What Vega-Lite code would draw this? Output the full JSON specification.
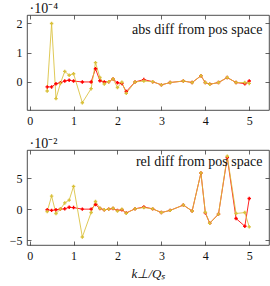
{
  "$schema": "https://vega.github.io/schema/vega-lite/v6.json",
  "padding": {"left": 8, "top": 0, "right": 0, "bottom": 0},
  "spacing": 8,
  "config": {
    "view": {"stroke": "#222222", "strokeWidth": 0.8},
    "font": "Liberation Serif",
    "axis": {"grid": false, "domain": false, "tickColor": "#222222", "tickSize": -4, "tickWidth": 0.7,
      "labelFont": "Liberation Serif", "labelFontSize": 12, "labelColor": "#111111", "labelPadding": 9,
      "titleFont": "Liberation Serif", "titleFontWeight": "normal", "titleColor": "#111111", "titleFontSize": 12}
  },
  "datasets": {
    "d": [
      {"x": 0.4, "s": "A", "abs": -0.17e-4, "rel": -0.1e-2},
      {"x": 0.5, "s": "A", "abs": -0.17e-4, "rel": -0.2e-2},
      {"x": 0.6, "s": "A", "abs": -0.06e-4, "rel": -0.1e-2},
      {"x": 0.7, "s": "A", "abs": -0.03e-4, "rel": 0.0},
      {"x": 0.8, "s": "A", "abs": 0.03e-4, "rel": 0.05e-2},
      {"x": 0.9, "s": "A", "abs": 0.06e-4, "rel": 0.3e-2},
      {"x": 1.0, "s": "A", "abs": 0.03e-4, "rel": 0.25e-2},
      {"x": 1.2, "s": "A", "abs": 0.0, "rel": 0.0},
      {"x": 1.4, "s": "A", "abs": 0.0, "rel": 0.0},
      {"x": 1.5, "s": "A", "abs": 0.45e-4, "rel": 0.75e-2},
      {"x": 1.6, "s": "A", "abs": 0.04e-4, "rel": 0.1e-2},
      {"x": 1.7, "s": "A", "abs": 0.0, "rel": -0.1e-2},
      {"x": 1.8, "s": "A", "abs": 0.01e-4, "rel": 0.0},
      {"x": 1.9, "s": "A", "abs": 0.1e-4, "rel": 0.1e-2},
      {"x": 2.0, "s": "A", "abs": -0.03e-4, "rel": -0.2e-2},
      {"x": 2.1, "s": "A", "abs": -0.05e-4, "rel": -0.1e-2},
      {"x": 2.2, "s": "A", "abs": -0.33e-4, "rel": -0.6e-2},
      {"x": 2.4, "s": "A", "abs": 0.0, "rel": 0.05e-2},
      {"x": 2.6, "s": "A", "abs": 0.08e-4, "rel": 0.35e-2},
      {"x": 2.8, "s": "A", "abs": 0.01e-4, "rel": 0.05e-2},
      {"x": 3.0, "s": "A", "abs": -0.1e-4, "rel": -0.55e-2},
      {"x": 3.2, "s": "A", "abs": -0.02e-4, "rel": -0.2e-2},
      {"x": 3.5, "s": "A", "abs": 0.03e-4, "rel": 0.65e-2},
      {"x": 3.7, "s": "A", "abs": -0.02e-4, "rel": -0.3e-2},
      {"x": 3.9, "s": "A", "abs": 0.21e-4, "rel": 5.8e-2},
      {"x": 4.0, "s": "A", "abs": -0.02e-4, "rel": -0.6e-2},
      {"x": 4.1, "s": "A", "abs": -0.08e-4, "rel": -2.26e-2},
      {"x": 4.3, "s": "A", "abs": -0.02e-4, "rel": -0.8e-2},
      {"x": 4.5, "s": "A", "abs": 0.15e-4, "rel": 8.3e-2},
      {"x": 4.7, "s": "A", "abs": -0.02e-4, "rel": -1.5e-2},
      {"x": 4.9, "s": "A", "abs": -0.06e-4, "rel": -2.75e-2},
      {"x": 5.0, "s": "A", "abs": 0.03e-4, "rel": 1.7e-2},
      {"x": 0.4, "s": "B", "abs": -0.31e-4, "rel": -0.39e-2},
      {"x": 0.5, "s": "B", "abs": 2.0e-4, "rel": 2.1e-2},
      {"x": 0.6, "s": "B", "abs": -0.57e-4, "rel": -0.7e-2},
      {"x": 0.7, "s": "B", "abs": -0.05e-4, "rel": 0.0},
      {"x": 0.8, "s": "B", "abs": 0.36e-4, "rel": 1.0e-2},
      {"x": 0.9, "s": "B", "abs": 0.23e-4, "rel": 1.45e-2},
      {"x": 1.0, "s": "B", "abs": 0.28e-4, "rel": 3.65e-2},
      {"x": 1.2, "s": "B", "abs": -0.71e-4, "rel": -4.47e-2},
      {"x": 1.4, "s": "B", "abs": -0.23e-4, "rel": -0.55e-2},
      {"x": 1.5, "s": "B", "abs": 0.66e-4, "rel": 1.23e-2},
      {"x": 1.6, "s": "B", "abs": 0.15e-4, "rel": 0.15e-2},
      {"x": 1.7, "s": "B", "abs": -0.07e-4, "rel": -0.1e-2},
      {"x": 1.8, "s": "B", "abs": 0.01e-4, "rel": 0.0},
      {"x": 1.9, "s": "B", "abs": 0.1e-4, "rel": 0.15e-2},
      {"x": 2.0, "s": "B", "abs": -0.19e-4, "rel": -0.3e-2},
      {"x": 2.1, "s": "B", "abs": -0.01e-4, "rel": 0.0},
      {"x": 2.2, "s": "B", "abs": -0.39e-4, "rel": -0.65e-2},
      {"x": 2.4, "s": "B", "abs": 0.0, "rel": 0.05e-2},
      {"x": 2.6, "s": "B", "abs": 0.03e-4, "rel": 0.25e-2},
      {"x": 2.8, "s": "B", "abs": 0.01e-4, "rel": 0.05e-2},
      {"x": 3.0, "s": "B", "abs": -0.1e-4, "rel": -0.55e-2},
      {"x": 3.2, "s": "B", "abs": -0.02e-4, "rel": -0.2e-2},
      {"x": 3.5, "s": "B", "abs": 0.03e-4, "rel": 0.65e-2},
      {"x": 3.7, "s": "B", "abs": -0.02e-4, "rel": -0.3e-2},
      {"x": 3.9, "s": "B", "abs": 0.21e-4, "rel": 5.8e-2},
      {"x": 4.0, "s": "B", "abs": -0.02e-4, "rel": -0.5e-2},
      {"x": 4.1, "s": "B", "abs": -0.08e-4, "rel": -2.26e-2},
      {"x": 4.3, "s": "B", "abs": -0.02e-4, "rel": -0.8e-2},
      {"x": 4.5, "s": "B", "abs": 0.15e-4, "rel": 8.5e-2},
      {"x": 4.7, "s": "B", "abs": -0.02e-4, "rel": -0.7e-2},
      {"x": 4.9, "s": "B", "abs": -0.02e-4, "rel": -0.55e-2},
      {"x": 5.0, "s": "B", "abs": -0.05e-4, "rel": -2.85e-2}
    ]
  },
  "vconcat": [
    {
      "width": 242, "height": 95,
      "resolve": {"axis": {"x": "independent", "y": "independent"}},
      "layer": [
        {
          "data": {"name": "d"},
          "mark": {"type": "line", "strokeWidth": 1, "opacity": 0.85},
          "encoding": {
            "x": {"field": "x", "type": "quantitative", "scale": {"domain": [-0.06, 5.45], "nice": false, "zero": false},
              "axis": {"orient": "bottom", "values": [0, 1, 2, 3, 4, 5], "title": null}},
            "y": {"field": "abs", "type": "quantitative", "scale": {"domain": [-0.96e-4, 2.29e-4], "nice": false, "zero": false},
              "axis": {"orient": "left", "values": [0, 1e-4, 2e-4], "labelExpr": "format(datum.value*1e4, '.0f')",
                "title": "·10⁻⁴", "titleFontSize": 14, "titleAngle": 0, "titleAlign": "left", "titleBaseline": "alphabetic", "titleX": 2, "titleY": -3}},
            "color": {"field": "s", "type": "nominal", "scale": {"domain": ["A", "B"], "range": ["#ff0000", "#d9c03a"]}, "legend": null}
          }
        },
        {
          "data": {"name": "d"},
          "mark": {"type": "point", "filled": true, "shape": "cross", "size": 12, "opacity": 1},
          "encoding": {
            "x": {"field": "x", "type": "quantitative", "axis": {"orient": "top", "values": [0, 1, 2, 3, 4, 5], "labels": false, "title": null}},
            "y": {"field": "abs", "type": "quantitative", "axis": {"orient": "right", "values": [0, 1e-4, 2e-4], "labels": false, "title": null}},
            "color": {"field": "s", "type": "nominal", "legend": null}
          }
        },
        {
          "data": {"values": [{}]},
          "mark": {"type": "text", "align": "right", "baseline": "alphabetic", "font": "Liberation Serif", "fontSize": 14, "color": "#111111", "text": "abs diff from pos space"},
          "encoding": {
            "x": {"datum": 5.3, "type": "quantitative", "axis": null},
            "y": {"datum": 1.65e-4, "type": "quantitative", "axis": null}
          }
        }
      ]
    },
    {
      "width": 242, "height": 95,
      "resolve": {"axis": {"x": "independent", "y": "independent"}},
      "layer": [
        {
          "data": {"name": "d"},
          "mark": {"type": "line", "strokeWidth": 1, "opacity": 0.85},
          "encoding": {
            "x": {"field": "x", "type": "quantitative", "scale": {"domain": [-0.06, 5.45], "nice": false, "zero": false},
              "axis": {"orient": "bottom", "values": [0, 1, 2, 3, 4, 5], "title": "k⊥/Qₛ", "titleFontStyle": "italic", "titleFontSize": 13, "titlePadding": 6}},
            "y": {"field": "rel", "type": "quantitative", "scale": {"domain": [-5.76e-2, 9.5e-2], "nice": false, "zero": false},
              "axis": {"orient": "left", "values": [-0.05, 0, 0.05], "labelExpr": "format(datum.value*1e2, '.0f')",
                "title": "·10⁻²", "titleFontSize": 14, "titleAngle": 0, "titleAlign": "left", "titleBaseline": "alphabetic", "titleX": 2, "titleY": -3}},
            "color": {"field": "s", "type": "nominal", "scale": {"domain": ["A", "B"], "range": ["#ff0000", "#d9c03a"]}, "legend": null}
          }
        },
        {
          "data": {"name": "d"},
          "mark": {"type": "point", "filled": true, "shape": "cross", "size": 12, "opacity": 1},
          "encoding": {
            "x": {"field": "x", "type": "quantitative", "axis": {"orient": "top", "values": [0, 1, 2, 3, 4, 5], "labels": false, "title": null}},
            "y": {"field": "rel", "type": "quantitative", "axis": {"orient": "right", "values": [-0.05, 0, 0.05], "labels": false, "title": null}},
            "color": {"field": "s", "type": "nominal", "legend": null}
          }
        },
        {
          "data": {"values": [{}]},
          "mark": {"type": "text", "align": "right", "baseline": "alphabetic", "font": "Liberation Serif", "fontSize": 14, "color": "#111111", "text": "rel diff from pos space"},
          "encoding": {
            "x": {"datum": 5.3, "type": "quantitative", "axis": null},
            "y": {"datum": 6.9e-2, "type": "quantitative", "axis": null}
          }
        }
      ]
    }
  ]
}
